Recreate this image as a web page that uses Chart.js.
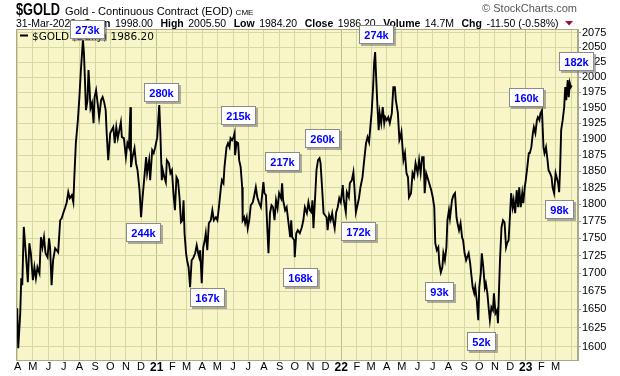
<!DOCTYPE html>
<html><head><meta charset="utf-8">
<script src="https://cdn.jsdelivr.net/npm/chart.js@4.4.0/dist/chart.umd.min.js"></script>
<style>html,body{margin:0;padding:0;background:#fff;}#wrap{width:620px;height:376px;position:relative;}</style>
</head><body><div id="wrap"><canvas id="c"></canvas></div>
<script>
// Day offsets from 2020-04-01 and daily closes
const days = [
-1,1,5,7,9,12,16,20,23,26,
30,33,36,39,43,46,49,52,55,59,
62,64,67,70,74,77,80,84,87,90,
94,97,100,103,107,110,112,115,119,122,
125,129,131,133,135,138,140,142,144,147,
150,152,155,159,161,165,168,171,174,176,
179,183,186,189,192,195,198,201,204,206,
210,214,217,220,223,224,227,231,234,237,
241,244,247,250,254,256,260,262,266,269,
272,276,278,280,282,285,287,290,293,295,
299,302,305,308,311,314,317,320,323,326,
328,330,333,335,338,341,344,347,351,354,
357,359,361,364,367,370,372,375,378,382,
385,388,392,395,398,402,404,407,409,413,
416,419,421,424,427,429,430,433,436,438,
441,444,445,448,450,453,455,458,461,465,
468,471,474,477,481,483,486,488,491,493,
496,499,502,505,508,511,514,517,521,523,
525,529,532,535,539,541,543,547,548,551,
554,558,562,565,568,572,575,578,581,583,
585,589,591,594,597,599,602,605,608,611,
613,616,619,622,624,627,630,633,636,639,
643,645,649,651,655,657,661,664,666,669,
672,675,678,682,684,686,689,692,695,697,
700,703,705,707,709,711,714,716,719,722,
725,727,730,733,736,740,743,746,748,752,
755,757,759,763,766,769,772,774,778,781,
784,787,791,794,797,800,803,805,808,811,
814,818,821,824,826,829,832,834,837,840,
842,845,848,850,853,855,859,862,865,868,
870,873,876,879,881,884,887,889,892,895,
897,900,903,905,908,911,913,916,918,921,
924,926,929,932,934,937,940,942,945,948,
950,952,954,957,960,963,966,968,971,974,
976,979,981,984,987,990,992,995,998,1000,
1003,1005,1008,1011,1013,1016,1019,1021,1024,1027,
1029,1032,1034,1037,1040,1042,1045,1048,1050,1053,
1056,1058,1061,1064,1066,1069,1071,1073,1075,1078,
1081,1083,1085,1088,1090,1092,1094,1096
];
const closes = [
1651.5,1597.6,1644.7,1693.1,1683.3,1766.6,1728.5,1687.5,1742.9,1728.5,
1690.3,1708.6,1693.1,1708.6,1700.1,1751.6,1737.1,1751.6,1728.5,1722.8,
1750.1,1737.1,1683.3,1718.5,1735.7,1732.8,1729.9,1776.4,1779.4,1786.8,
1795.7,1803.1,1818.2,1809.1,1813.6,1803.1,1841.0,1893.6,1930.0,1967.2,
2011.8,2062.5,2040.3,1995.1,1946.1,1962.3,2011.8,1983.6,1949.3,1957.4,
1925.2,1967.2,1978.6,1950.9,1934.8,1962.3,1967.2,1959.0,1946.1,1909.3,
1867.1,1909.3,1914.1,1918.8,1893.6,1918.8,1901.4,1914.1,1926.8,1903.0,
1901.4,1871.8,1893.6,1887.3,1950.9,1856.3,1871.8,1885.7,1862.5,1851.7,
1821.2,1780.8,1810.6,1836.4,1871.8,1847.1,1867.1,1836.4,1882.6,1878.0,
1887.3,1903.0,1930.0,1954.2,1914.1,1836.4,1851.7,1841.0,1833.3,1867.1,
1862.5,1847.1,1851.7,1816.7,1791.2,1841.0,1836.4,1810.6,1773.5,1776.4,
1806.1,1757.4,1728.5,1718.5,1708.6,1680.5,1718.5,1721.4,1728.5,1740.0,
1728.5,1722.8,1732.8,1686.1,1737.1,1747.2,1757.4,1732.8,1772.0,1776.4,
1791.2,1776.4,1780.8,1776.4,1795.7,1825.7,1836.4,1831.8,1856.3,1887.3,
1893.6,1887.3,1901.4,1898.3,1903.0,1909.3,1874.9,1895.1,1893.6,1867.1,
1856.3,1825.7,1776.4,1780.8,1772.0,1780.8,1764.7,1776.4,1798.6,1803.1,
1813.6,1825.7,1810.6,1803.1,1795.7,1810.6,1833.3,1816.7,1813.6,1776.4,
1728.5,1786.8,1798.6,1795.7,1776.4,1806.1,1794.2,1816.7,1809.1,1831.8,
1806.1,1791.2,1795.7,1776.4,1751.6,1776.4,1751.6,1747.2,1722.8,1757.4,
1761.8,1757.4,1766.2,1776.4,1795.7,1786.8,1803.1,1791.2,1788.2,1806.1,
1764.7,1821.2,1851.7,1867.1,1870.2,1862.5,1825.7,1786.8,1783.8,1780.8,
1761.8,1783.8,1776.4,1786.8,1776.4,1764.7,1788.2,1795.7,1809.1,1803.1,
1828.8,1806.1,1788.2,1818.2,1810.6,1831.8,1836.4,1848.6,1825.7,1788.2,
1798.6,1809.1,1825.7,1841.0,1856.3,1871.8,1893.6,1903.0,1895.1,1914.1,
1941.2,1983.6,2023.5,2042.0,2000.1,1962.3,1914.1,1941.2,1925.2,1950.9,
1925.2,1934.8,1930.0,1934.8,1925.2,1941.2,1983.6,1983.6,1962.3,1941.2,
1898.3,1903.0,1910.9,1867.1,1878.0,1847.1,1841.0,1810.6,1816.7,1847.1,
1841.0,1862.5,1847.1,1867.1,1847.1,1871.8,1871.8,1816.7,1847.1,1839.4,
1831.8,1821.2,1810.6,1795.7,1742.9,1732.8,1737.1,1714.2,1701.5,1708.6,
1728.5,1718.5,1737.1,1776.4,1791.2,1779.4,1806.1,1813.6,1816.7,1780.8,
1772.0,1761.8,1772.0,1751.6,1747.2,1728.5,1718.5,1722.8,1728.5,1714.2,
1700.1,1680.5,1672.2,1680.5,1662.5,1635.2,1680.5,1700.1,1728.5,1708.6,
1680.5,1686.1,1672.2,1648.8,1635.2,1652.9,1648.8,1672.2,1644.7,1648.8,
1631.1,1676.3,1718.5,1766.2,1776.4,1773.5,1737.1,1742.9,1747.2,1786.8,
1816.7,1795.7,1806.1,1786.8,1821.2,1795.7,1825.7,1795.7,1816.7,1801.6,
1825.7,1836.4,1856.3,1878.0,1878.0,1887.3,1909.3,1918.8,1909.3,1930.0,
1934.8,1930.0,1941.2,1946.1,1887.3,1878.0,1887.3,1867.1,1851.7,1847.1,
1841.0,1825.7,1816.7,1847.1,1841.0,1831.8,1818.2,1856.3,1914.1,1930.0,
1950.9,1983.6,1962.3,1995.1,1967.2,1990.2,1983.6,1986.2
];
const yTicks = [1600,1625,1650,1675,1700,1725,1750,1775,1800,1825,1850,1875,1900,1925,1950,1975,2000,2025,2050,2075];
const monthLetters = ['J','F','M','A','M','J','J','A','S','O','N','D'];
const yearLabels = {2021:'21',2022:'22',2023:'23'};
// volume annotations (label, day offset, price at box centre)
const annotLabels = ['273k','280k','244k','167k','215k','217k','260k','168k','172k','274k','93k','52k','160k','98k','182k'];
const annotDays   = [139,285,248,376,436,523,603,560,675,710,834,917,1007,1072,1106];
const annotPrices = [2080.5,1974.6,1758,1665.6,1937.5,1865.2,1900.7,1694.5,1759.4,2072.4,1674.3,1606.9,1966.9,1791.6,2025.5];
const titleSymbol = '$GOLD';
const titleName = 'Gold - Continuous Contract (EOD)';
const titleExchange = 'CME';
const quoteItems = [['','31-Mar-2023'],['Open','1998.00'],['High','2005.50'],['Low','1984.20'],['Close','1986.20'],['Volume','14.7M'],['Chg','-11.50 (-0.58%)']];
const legendText = '$GOLD (Daily) 1986.20';

const SANS = '"Liberation Sans", Arial, sans-serif';
const BASE = Date.UTC(2020,3,1);
const monthTicks = [];
for (let y = 2020, m = 3; y < 2023 || (y === 2023 && m <= 3); ) {
  const v = Math.round((Date.UTC(y, m, 1) - BASE) / 86400000);
  let label = m === 0 ? yearLabels[y] : monthLetters[m];
  if (y === 2023 && m === 3) label = '';
  monthTicks.push({value: v, label: label, major: m === 0});
  m++; if (m > 11) { m = 0; y++; }
}
const tickLabelMap = new Map(monthTicks.map(t => [t.value, t.label]));
const majorSet = new Set(monthTicks.filter(t => t.major).map(t => t.value));

const decor = {
  id: 'decor',
  beforeDraw(chart) {
    const {ctx, chartArea: a} = chart;
    ctx.save();
    ctx.fillStyle = '#f8f6c8';
    ctx.fillRect(a.left, a.top, a.right - a.left, a.bottom - a.top);
    // header line 1
    ctx.fillStyle = '#000';
    ctx.textBaseline = 'alphabetic';
    ctx.textAlign = 'left';
    ctx.font = 'bold 16px ' + SANS;
    const symW = ctx.measureText(titleSymbol).width * 0.8;
    ctx.save();
    ctx.translate(16, 15);
    ctx.scale(0.8, 1);
    ctx.fillText(titleSymbol, 0, 0);
    ctx.restore();
    let x = 16 + symW + 5;
    ctx.font = '11px ' + SANS;
    ctx.fillText(titleName, x, 15);
    x += ctx.measureText(titleName).width + 3;
    ctx.font = '8px ' + SANS;
    ctx.fillText(titleExchange, x, 15);
    // copyright
    ctx.fillStyle = '#555';
    ctx.font = '11px ' + SANS;
    ctx.textAlign = 'right';
    ctx.fillText('\u00a9 StockCharts.com', 577, 12);
    ctx.textAlign = 'left';
    // header line 2
    ctx.fillStyle = '#000';
    x = 16;
    const gap = 7.5;
    quoteItems.forEach(([lab, val]) => {
      if (lab) {
        ctx.font = 'bold 10.5px ' + SANS;
        ctx.fillText(lab, x, 27);
        x += ctx.measureText(lab).width + 4.5;
      }
      ctx.font = '10.5px ' + SANS;
      ctx.fillText(val, x, 27);
      x += ctx.measureText(val).width + gap;
    });
    ctx.fillStyle = '#9b1030';
    ctx.beginPath();
    ctx.moveTo(x - 1, 21); ctx.lineTo(x + 7, 21); ctx.lineTo(x + 3, 25.5); ctx.closePath();
    ctx.fill();
    ctx.restore();
  },
  afterDraw(chart) {
    const {ctx, chartArea: a, scales} = chart;
    ctx.save();
    ctx.strokeStyle = '#a9a98c';
    ctx.lineWidth = 1;
    ctx.strokeRect(a.left + 0.5, a.top + 0.5, a.right - a.left - 1, a.bottom - a.top);
    // legend
    ctx.strokeStyle = '#000';
    ctx.lineWidth = 2;
    ctx.beginPath(); ctx.moveTo(20, 35.5); ctx.lineTo(28, 35.5); ctx.stroke();
    ctx.fillStyle = '#000';
    ctx.font = '10.5px "DejaVu Sans", sans-serif';
    ctx.textBaseline = 'alphabetic';
    ctx.fillText(legendText, 32, 40);
    // annotation boxes
    ctx.font = 'bold 11px ' + SANS;
    annotLabels.forEach((t, i) => {
      const cx = scales.x.getPixelForValue(annotDays[i]);
      const cy = scales.y.getPixelForValue(annotPrices[i]);
      const tw = ctx.measureText(t).width;
      const w = Math.round(tw + 11), h = 19;
      const x0 = Math.round(cx - w / 2), y0 = Math.round(cy - h / 2);
      ctx.fillStyle = 'rgba(110,110,110,0.55)';
      ctx.fillRect(x0 + 2, y0 + 2, w, h);
      ctx.fillStyle = '#fff';
      ctx.fillRect(x0, y0, w, h);
      ctx.strokeStyle = '#8a8a8a';
      ctx.lineWidth = 1;
      ctx.strokeRect(x0 + 0.5, y0 + 0.5, w - 1, h - 1);
      ctx.fillStyle = '#0000ff';
      ctx.textAlign = 'center';
      ctx.textBaseline = 'middle';
      ctx.fillText(t, x0 + w / 2, y0 + h / 2 + 1);
    });
    ctx.restore();
  }
};

new Chart(document.getElementById('c'), {
  type: 'line',
  data: {
    datasets: [{
      data: days.map((d, i) => ({x: d, y: closes[i]})),
      borderColor: '#000',
      borderWidth: 1.9,
      pointRadius: 0,
      tension: 0,
      fill: false
    }]
  },
  options: {
    responsive: true,
    maintainAspectRatio: false,
    animation: false,
    layout: {padding: {left: 16, top: 29, right: 0, bottom: 0}},
    plugins: {legend: {display: false}, tooltip: {enabled: false}},
    scales: {
      x: {
        type: 'linear',
        min: -3.4, max: 1108.3,
        afterBuildTicks: s => { s.ticks = monthTicks.map(t => ({value: t.value, major: t.major})); },
        afterFit: s => { s.height = 16; },
        ticks: {
          autoSkip: false, maxRotation: 0, padding: 0, color: '#000',
          callback: v => tickLabelMap.has(v) ? tickLabelMap.get(v) : '',
          font: c => (c.tick && majorSet.has(c.tick.value)) ? {family: SANS, size: 12, weight: 'bold'} : {family: SANS, size: 11}
        },
        grid: {
          drawTicks: false,
          color: c => (c.tick && majorSet.has(c.tick.value)) ? '#b9c08a' : '#d4d9a2',
          lineWidth: 1
        },
        border: {display: true, color: '#a9a98c'}
      },
      y: {
        type: 'logarithmic',
        position: 'right',
        min: 1582.2, max: 2081.4,
        afterBuildTicks: s => { s.ticks = yTicks.map(v => ({value: v})); },
        afterFit: s => { s.width = 42; },
        ticks: {
          padding: 1, color: '#000',
          font: {family: SANS, size: 11},
          callback: v => String(v)
        },
        grid: {color: '#d4d9a2', tickColor: '#999', tickLength: 3, drawTicks: true},
        border: {display: true, color: '#a9a98c'}
      }
    }
  },
  plugins: [decor]
});
</script>
</body></html>
